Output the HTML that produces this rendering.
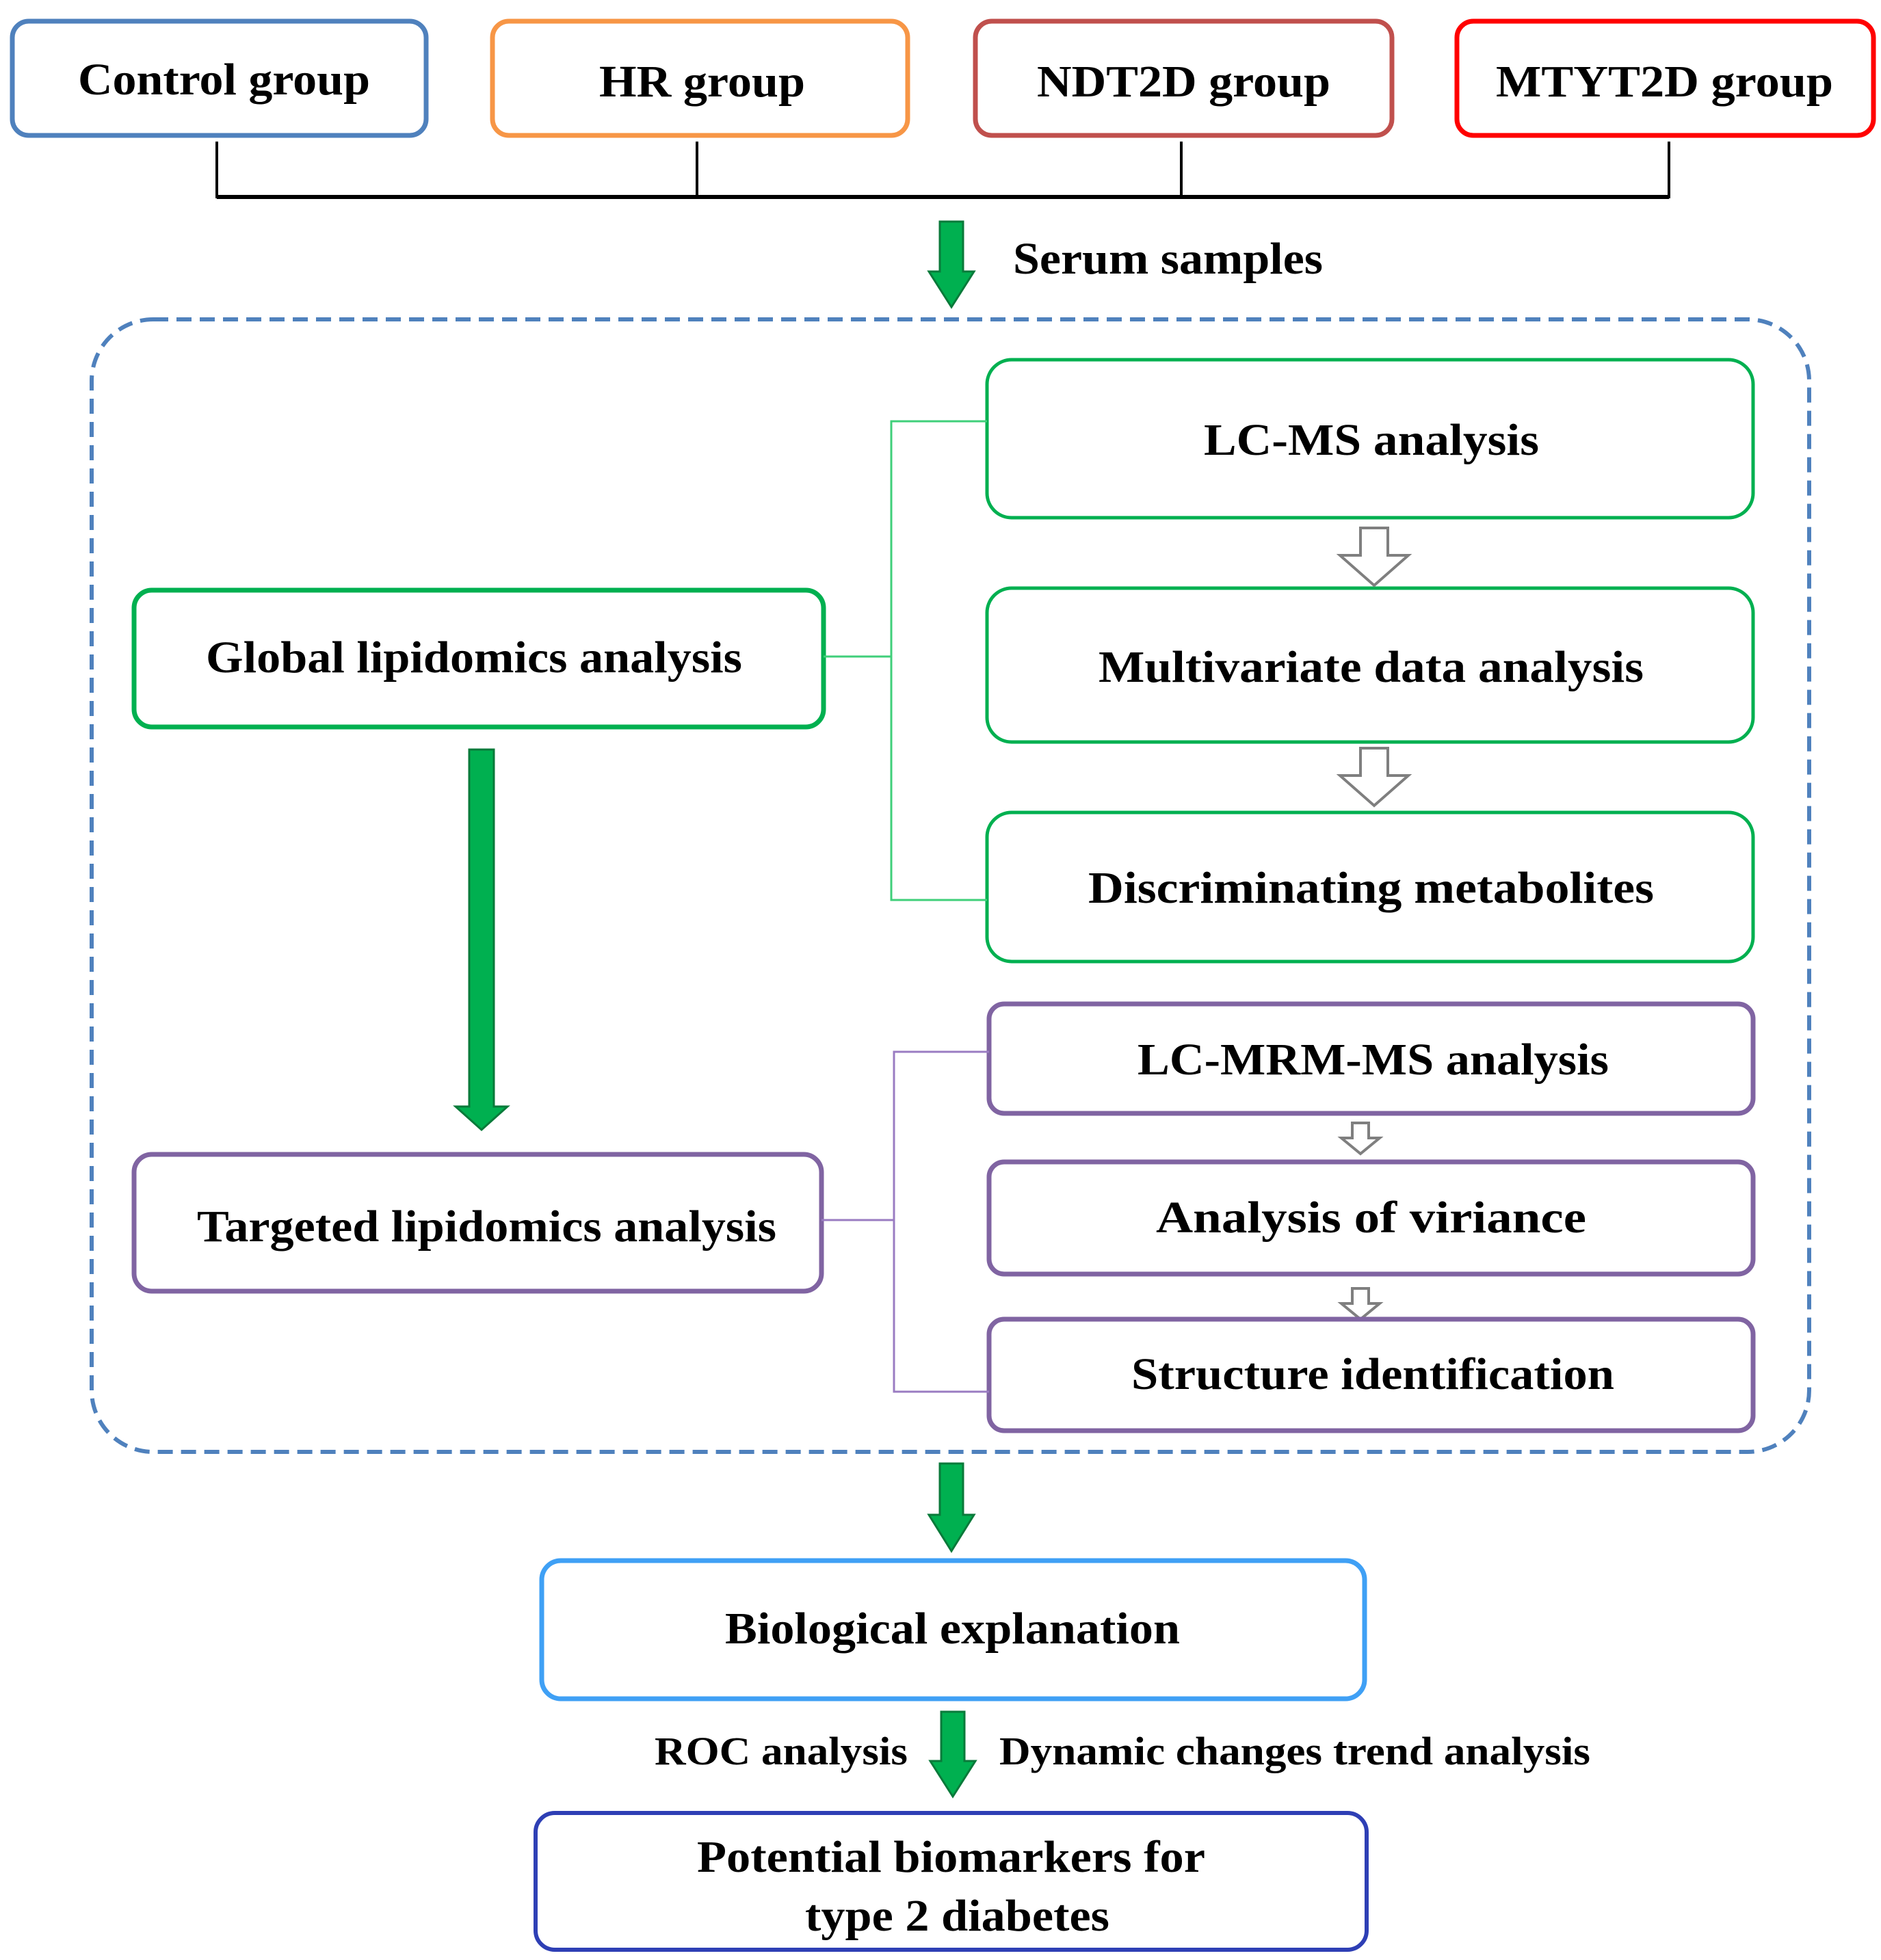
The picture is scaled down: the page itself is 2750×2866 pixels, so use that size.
<!DOCTYPE html>
<html><head><meta charset="utf-8"><style>html,body{margin:0;padding:0;background:#fff}svg{display:block}</style></head>
<body>
<svg width="2750" height="2866" viewBox="0 0 2750 2866" xmlns="http://www.w3.org/2000/svg" font-family="'Liberation Serif', serif" font-weight="bold" fill="#000">
<!-- top group boxes -->
<g fill="#fff" stroke-width="7">
<rect x="18" y="31" width="605" height="167" rx="24" stroke="#4f81bd"/>
<rect x="720" y="31" width="607" height="167" rx="24" stroke="#f79646"/>
<rect x="1426" y="31" width="609" height="167" rx="24" stroke="#c0504d"/>
<rect x="2130" y="31" width="609" height="167" rx="24" stroke="#ff0000"/>
</g>
<g font-size="66">
<text x="114" y="138" textLength="427" lengthAdjust="spacingAndGlyphs">Control group</text>
<text x="876" y="141" textLength="301" lengthAdjust="spacingAndGlyphs">HR group</text>
<text x="1516" y="141" textLength="429" lengthAdjust="spacingAndGlyphs">NDT2D group</text>
<text x="2187" y="141" textLength="493" lengthAdjust="spacingAndGlyphs">MTYT2D group</text>
</g>
<g stroke="#000" stroke-width="4" fill="none">
<path d="M317 207 V290 M1019 207 V290 M1727 207 V290 M2440 207 V290"/>
<path d="M317 288 H2440" stroke-width="6"/>
</g>
<!-- green arrows -->
<g fill="#00b050" stroke="#0a7a3a" stroke-width="3">
<path d="M1374 324 H1408 V397 H1424 L1391 449 L1358 397 H1374 Z"/>
<path d="M686 1096 H722 V1618 H742 L704 1652 L666 1618 H686 Z"/>
<path d="M1374 2140 H1408 V2215 H1424 L1391 2268 L1358 2215 H1374 Z"/>
<path d="M1376 2503 H1410 V2575 H1426 L1393 2627 L1360 2575 H1376 Z"/>
</g>
<text x="1481" y="400" font-size="66" textLength="453" lengthAdjust="spacingAndGlyphs">Serum samples</text>
<!-- dashed container -->
<rect x="134" y="467" width="2511" height="1656" rx="90" fill="none" stroke="#4f81bd" stroke-width="6" stroke-dasharray="22 12"/>
<!-- green group -->
<g fill="#fff" stroke="#00b050" stroke-width="5">
<rect x="1443" y="526" width="1120" height="231" rx="36"/>
<rect x="1443" y="860" width="1120" height="225" rx="36"/>
<rect x="1443" y="1188" width="1120" height="218" rx="36"/>
<rect x="196" y="863" width="1008" height="200" rx="26" stroke-width="7"/>
</g>
<g stroke="#3fcf7a" stroke-width="3" fill="none">
<path d="M1443 616 H1303 V1316 H1443 M1204 960 H1303"/>
</g>
<g fill="#fff" stroke="#7f7f7f" stroke-width="4">
<path d="M1989 772 H2029 V812 H2059 L2009 856 L1959 812 H1989 Z"/>
<path d="M1989 1094 H2029 V1134 H2059 L2009 1178 L1959 1134 H1989 Z"/>
<path d="M1977 1642 H2001 V1664 H2017 L1989 1687 L1961 1664 H1977 Z"/>
<path d="M1977 1884 H2001 V1906 H2017 L1989 1929 L1961 1906 H1977 Z"/>
</g>
<g font-size="66">
<text x="1760" y="665" textLength="490" lengthAdjust="spacingAndGlyphs">LC-MS analysis</text>
<text x="1606" y="997" textLength="797" lengthAdjust="spacingAndGlyphs">Multivariate data analysis</text>
<text x="1591" y="1320" textLength="827" lengthAdjust="spacingAndGlyphs">Discriminating metabolites</text>
<text x="301" y="983" textLength="784" lengthAdjust="spacingAndGlyphs">Global lipidomics analysis</text>
</g>
<!-- purple group -->
<g fill="#fff" stroke="#8064a2" stroke-width="7">
<rect x="1446" y="1468" width="1117" height="160" rx="22"/>
<rect x="1446" y="1699" width="1117" height="164" rx="22"/>
<rect x="1446" y="1929" width="1117" height="163" rx="22"/>
<rect x="196" y="1688" width="1005" height="200" rx="26"/>
</g>
<g stroke="#9a7cc2" stroke-width="3" fill="none">
<path d="M1446 1538 H1307 V2035 H1446 M1201 1784 H1307"/>
</g>
<g font-size="66">
<text x="1663" y="1571" textLength="689" lengthAdjust="spacingAndGlyphs">LC-MRM-MS analysis</text>
<text x="1690" y="1802" textLength="629" lengthAdjust="spacingAndGlyphs">Analysis of viriance</text>
<text x="1654" y="2031" textLength="706" lengthAdjust="spacingAndGlyphs">Structure identification</text>
<text x="288" y="1815" textLength="847" lengthAdjust="spacingAndGlyphs">Targeted lipidomics analysis</text>
</g>
<!-- bottom -->
<rect x="792" y="2282" width="1203" height="202" rx="28" fill="#fff" stroke="#3fa0f5" stroke-width="7"/>
<rect x="783" y="2651" width="1215" height="200" rx="28" fill="#fff" stroke="#2e3fb5" stroke-width="6"/>
<g font-size="66">
<text x="1060" y="2403" textLength="665" lengthAdjust="spacingAndGlyphs">Biological explanation</text>
<text x="1019" y="2737" textLength="743" lengthAdjust="spacingAndGlyphs">Potential biomarkers for</text>
<text x="1177" y="2823" textLength="445" lengthAdjust="spacingAndGlyphs">type 2 diabetes</text>
</g>
<g font-size="58">
<text x="957" y="2580" textLength="370" lengthAdjust="spacingAndGlyphs">ROC analysis</text>
<text x="1461" y="2580" textLength="864" lengthAdjust="spacingAndGlyphs">Dynamic changes trend analysis</text>
</g>
</svg>
</body></html>
